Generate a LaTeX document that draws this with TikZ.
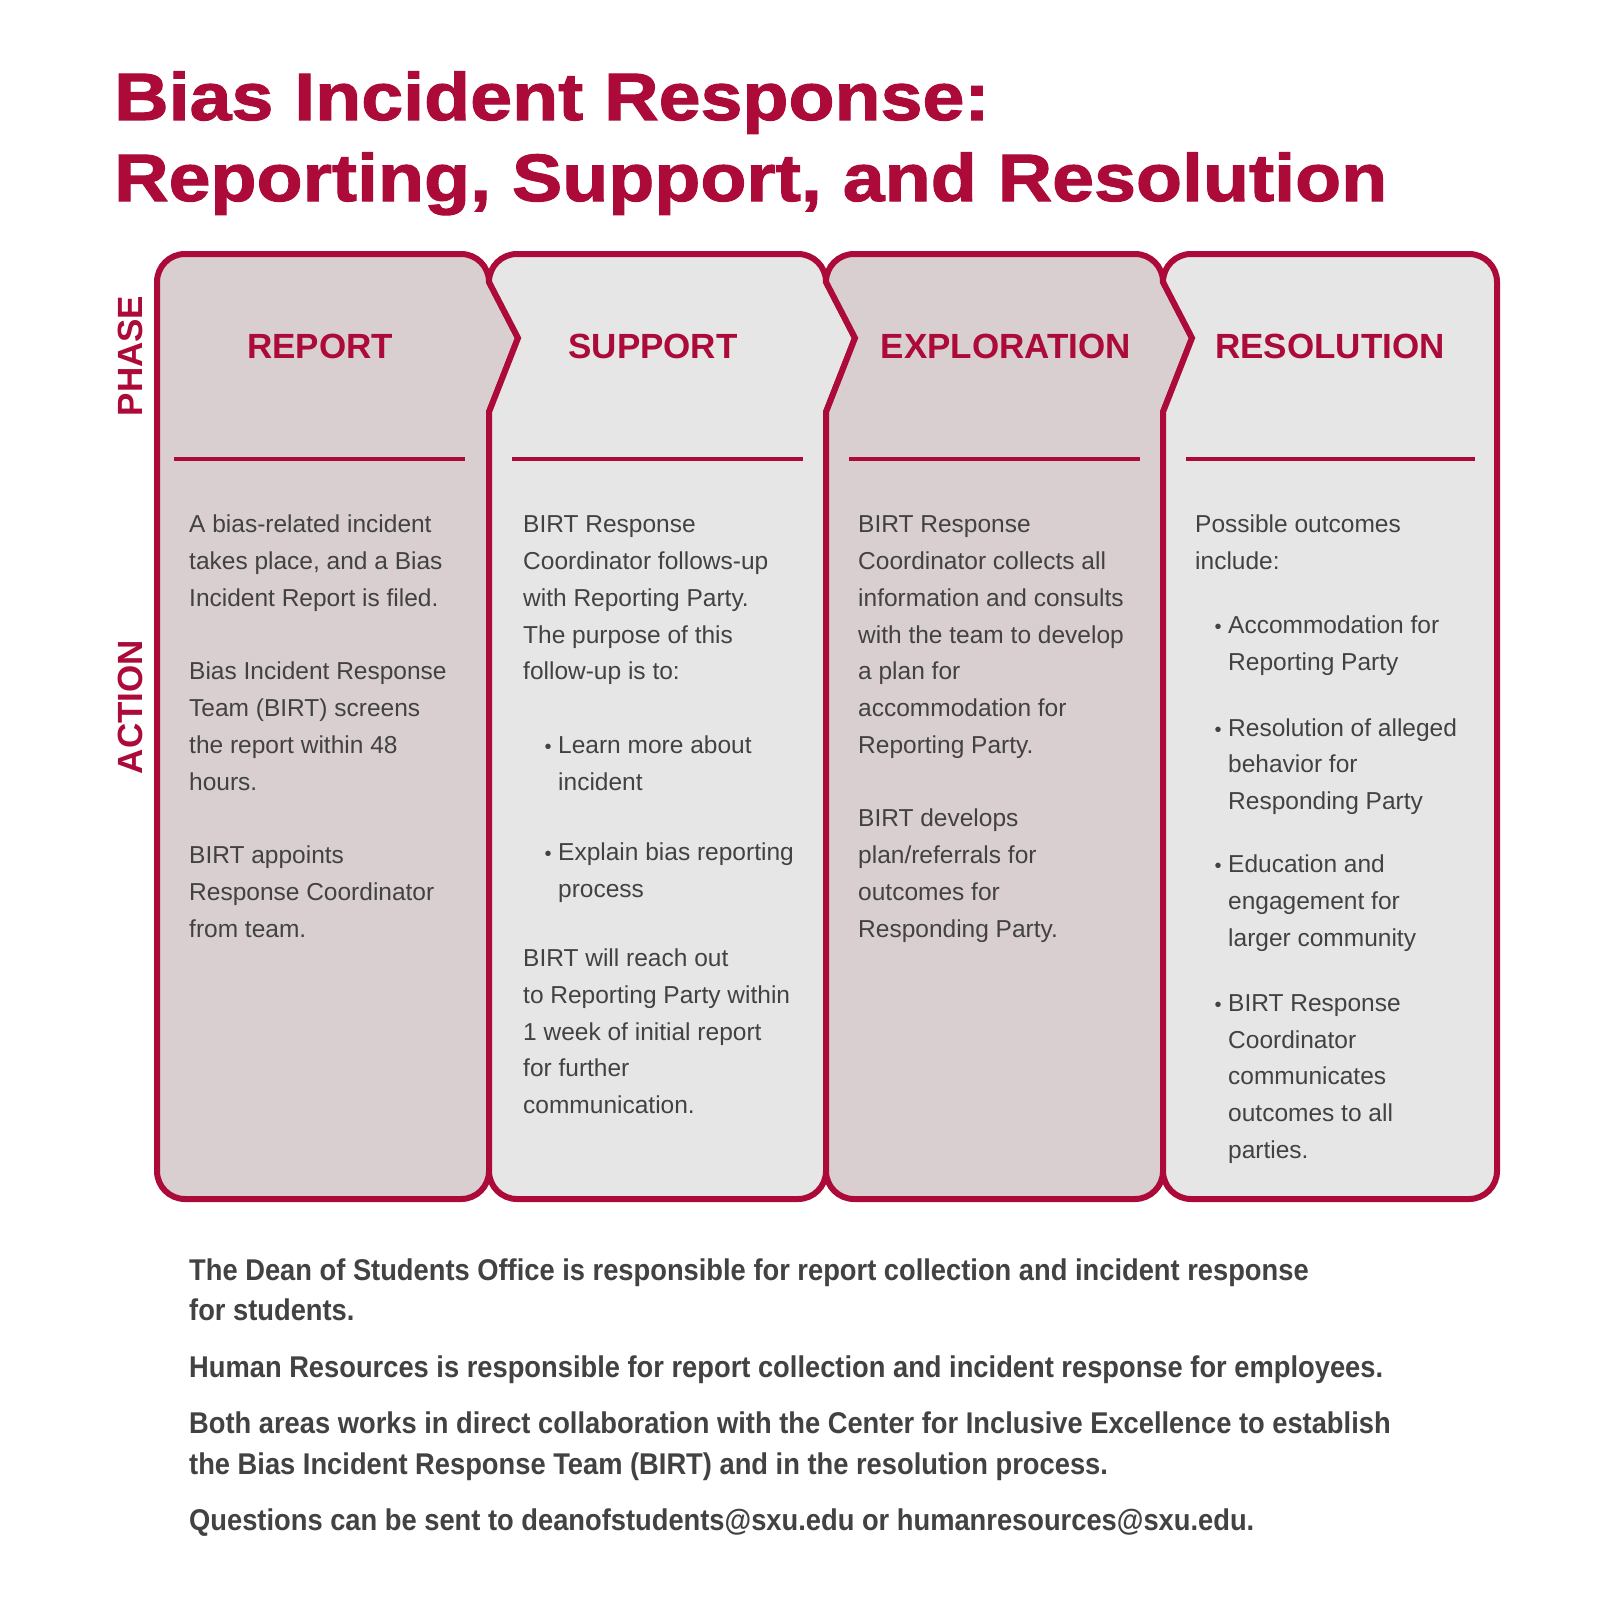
\documentclass[tikz,border=0pt]{standalone}
\usepackage{fontspec}
\setmainfont{Liberation Sans}
\newfontfamily\titlefont{Liberation Sans}[FakeStretch=1.125,FakeBold=1.6]
\newfontfamily\bodyfont{Liberation Sans}
\newfontfamily\footfont{Liberation Sans}[FakeStretch=0.91]
\definecolor{sxured}{RGB}{172,10,56}
\definecolor{fillA}{RGB}{217,207,208}
\definecolor{fillB}{RGB}{230,230,230}
\definecolor{txtgray}{RGB}{66,66,66}
\newcommand{\bodyline}[4]{\node[bodytxt] (#1) at (#2,#3) {#4};}
\newcommand{\bulletmark}[3]{\node[bulletdot] (#1) at (#2,#3) {•};}
\begin{document}
\begin{tikzpicture}[x=1bp,y=-1bp,
  panel/.style={draw=sxured, line width=6bp, line join=miter},
  sepline/.style={draw=sxured, line width=4bp},
  titletxt/.style={anchor=base west, inner sep=0, text=sxured, font=\titlefont\bfseries\fontsize{67bp}{80bp}\selectfont},
  headtxt/.style={anchor=base, inner sep=0, text=sxured, font=\bfseries\fontsize{35bp}{40bp}\selectfont},
  sidetxt/.style={anchor=base, inner sep=0, rotate=90, text=sxured, font=\bfseries\fontsize{35bp}{40bp}\selectfont},
  bodytxt/.style={anchor=base west, inner sep=0, text=txtgray, font=\bodyfont\fontsize{24.5bp}{30bp}\selectfont},
  bulletdot/.style={anchor=center, inner sep=0, text=txtgray, font=\bodyfont\fontsize{20bp}{20bp}\selectfont},
  foottxt/.style={anchor=base west, inner sep=0, text=txtgray, font=\footfont\bfseries\fontsize{30bp}{36bp}\selectfont}]
\useasboundingbox[fill=white] (0,0) rectangle (1600,1600);

% title
\node[titletxt] (t1) at (114,120) {Bias Incident Response:};
\node[titletxt] (t2) at (114,201) {Reporting, Support, and Resolution};

% panels
\draw[panel, fill=fillA] (185,254) -- (461,254) .. controls (476.5,254) and (489,266.5) .. (489,282) -- (518,338) -- (489,412) -- (489,1171) .. controls (489,1186.5) and (476.5,1199) .. (461,1199) -- (185,1199) .. controls (169.5,1199) and (157,1186.5) .. (157,1171) -- (157,282) .. controls (157,266.5) and (169.5,254) .. (185,254) -- cycle;
\draw[panel, fill=fillB] (517,254) -- (798,254) .. controls (813.5,254) and (826,266.5) .. (826,282) -- (855,338) -- (826,412) -- (826,1171) .. controls (826,1186.5) and (813.5,1199) .. (798,1199) -- (517,1199) .. controls (501.5,1199) and (489,1186.5) .. (489,1171) -- (489,412) -- (518,338) -- (489,282) .. controls (489,266.5) and (501.5,254) .. (517,254) -- cycle;
\draw[panel, fill=fillA] (854,254) -- (1135,254) .. controls (1150.5,254) and (1163,266.5) .. (1163,282) -- (1192,338) -- (1163,412) -- (1163,1171) .. controls (1163,1186.5) and (1150.5,1199) .. (1135,1199) -- (854,1199) .. controls (838.5,1199) and (826,1186.5) .. (826,1171) -- (826,412) -- (855,338) -- (826,282) .. controls (826,266.5) and (838.5,254) .. (854,254) -- cycle;
\draw[panel, fill=fillB] (1191,254) -- (1469,254) .. controls (1484.5,254) and (1497,266.5) .. (1497,282) -- (1497,1171) .. controls (1497,1186.5) and (1484.5,1199) .. (1469,1199) -- (1191,1199) .. controls (1175.5,1199) and (1163,1186.5) .. (1163,1171) -- (1163,412) -- (1192,338) -- (1163,282) .. controls (1163,266.5) and (1175.5,254) .. (1191,254) -- cycle;

% separator lines
\draw[sepline] (174,459) -- (465,459);
\draw[sepline] (512,459) -- (803,459);
\draw[sepline] (849,459) -- (1140,459);
\draw[sepline] (1186,459) -- (1475,459);

% side labels
\node[sidetxt] (phase) at (142,356) {PHASE};
\node[sidetxt] (action) at (142,707) {ACTION};

% headers
\node[headtxt] (h1) at (320,358) {REPORT};
\node[headtxt] (h2) at (653,358) {SUPPORT};
\node[headtxt] (h3) at (1006,358) {EXPLORATION};
\node[headtxt] (h4) at (1330,358) {RESOLUTION};

% panel 1 text
\bodyline{a1}{189}{532}{A bias-related incident}
\bodyline{a2}{189}{569}{takes place, and a Bias}
\bodyline{a3}{189}{606}{Incident Report is filed.}
\bodyline{a4}{189}{679}{Bias Incident Response}
\bodyline{a5}{189}{716}{Team (BIRT) screens}
\bodyline{a6}{189}{753}{the report within 48}
\bodyline{a7}{189}{790}{hours.}
\bodyline{a8}{189}{863}{BIRT appoints}
\bodyline{a9}{189}{900}{Response Coordinator}
\bodyline{a10}{189}{937}{from team.}

% panel 2 text
\bodyline{b1}{523}{532}{BIRT Response}
\bodyline{b2}{523}{569}{Coordinator follows-up}
\bodyline{b3}{523}{606}{with Reporting Party.}
\bodyline{b4}{523}{643}{The purpose of this}
\bodyline{b5}{523}{679}{follow-up is to:}
\bulletmark{bb1}{548}{749}
\bodyline{b6}{558}{753}{Learn more about}
\bodyline{b7}{558}{790}{incident}
\bulletmark{bb2}{548}{856}
\bodyline{b8}{558}{860}{Explain bias reporting}
\bodyline{b9}{558}{897}{process}
\bodyline{b10}{523}{966}{BIRT will reach out}
\bodyline{b11}{523}{1003}{to Reporting Party within}
\bodyline{b12}{523}{1040}{1 week of initial report}
\bodyline{b13}{523}{1076}{for further}
\bodyline{b14}{523}{1113}{communication.}

% panel 3 text
\bodyline{c1}{858}{532}{BIRT Response}
\bodyline{c2}{858}{569}{Coordinator collects all}
\bodyline{c3}{858}{606}{information and consults}
\bodyline{c4}{858}{643}{with the team to develop}
\bodyline{c5}{858}{679}{a plan for}
\bodyline{c6}{858}{716}{accommodation for}
\bodyline{c7}{858}{753}{Reporting Party.}
\bodyline{c8}{858}{826}{BIRT develops}
\bodyline{c9}{858}{863}{plan/referrals for}
\bodyline{c10}{858}{900}{outcomes for}
\bodyline{c11}{858}{937}{Responding Party.}

% panel 4 text
\bodyline{d1}{1195}{532}{Possible outcomes}
\bodyline{d2}{1195}{569}{include:}
\bulletmark{db1}{1218}{629}
\bodyline{d3}{1228}{633}{Accommodation for}
\bodyline{d4}{1228}{670}{Reporting Party}
\bulletmark{db2}{1218}{732}
\bodyline{d5}{1228}{736}{Resolution of alleged}
\bodyline{d6}{1228}{772}{behavior for}
\bodyline{d7}{1228}{809}{Responding Party}
\bulletmark{db3}{1218}{868}
\bodyline{d8}{1228}{872}{Education and}
\bodyline{d9}{1228}{909}{engagement for}
\bodyline{d10}{1228}{946}{larger community}
\bulletmark{db4}{1218}{1007}
\bodyline{d11}{1228}{1011}{BIRT Response}
\bodyline{d12}{1228}{1048}{Coordinator}
\bodyline{d13}{1228}{1084}{communicates}
\bodyline{d14}{1228}{1121}{outcomes to all}
\bodyline{d15}{1228}{1158}{parties.}

% footer
\node[foottxt] (f1) at (189,1280) {The Dean of Students Office is responsible for report collection and incident response};
\node[foottxt] (f2) at (189,1320) {for students.};
\node[foottxt] (f3) at (189,1377) {Human Resources is responsible for report collection and incident response for employees.};
\node[foottxt] (f4) at (189,1433) {Both areas works in direct collaboration with the Center for Inclusive Excellence to establish};
\node[foottxt] (f5) at (189,1474) {the Bias Incident Response Team (BIRT) and in the resolution process.};
\node[foottxt] (f6) at (189,1530) {Questions can be sent to deanofstudents@sxu.edu or humanresources@sxu.edu.};
\end{tikzpicture}
\end{document}
